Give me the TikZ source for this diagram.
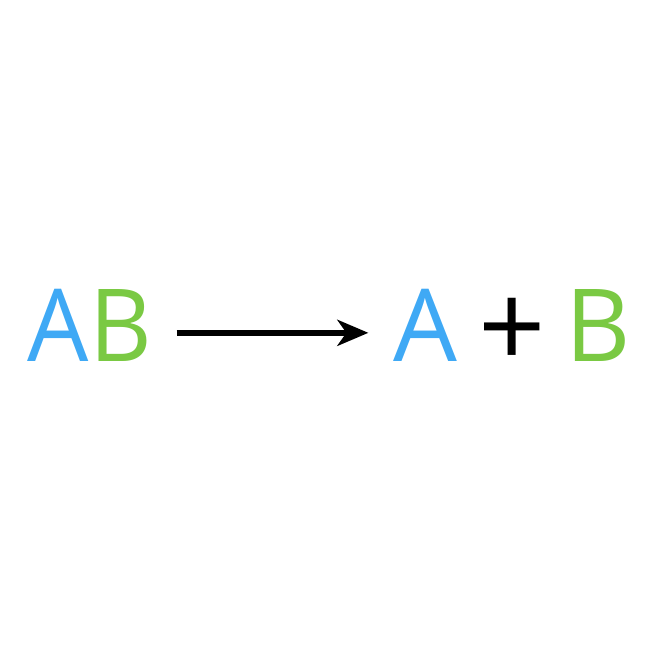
\documentclass[tikz,border=0pt]{standalone}
\usepackage{fontspec}
\setmainfont{Open Sans}
\usepackage{xcolor}
\usetikzlibrary{positioning,arrows.meta}
\definecolor{speciesA}{HTML}{3FA9F5}
\definecolor{speciesB}{HTML}{7AC943}

\begin{document}
\begin{tikzpicture}[>={Stealth[length=3.1mm,width=2.6mm,inset=0.9mm]},
                    every node/.style={inner sep=0pt,font=\fontsize{28.7}{30}\selectfont},
                    reaction/.style={line width=1.75pt}]
            \useasboundingbox (0,0) rectangle (6.5,6.5);
            %Nodes
                \node[anchor=base,xscale=0.96] (ab) at (0.90,2.88) {\textcolor{speciesA}{A}\textcolor{speciesB}{B}};
                \node[anchor=base,text=speciesA] (a) at (4.25,2.88) {A};
                \node[scale=1.17] (plus) at (5.12,3.17) {+};
                \node[anchor=base,text=speciesB] (b) at (5.98,2.88) {B};
                \coordinate (start) at ([xshift=2.4mm,yshift=-0.7mm]ab.east);
                \coordinate (end) at ([xshift=-2.4mm,yshift=-0.7mm]a.west);

            %Lines
                \draw[->,reaction] (start) -- (end);
            \end{tikzpicture}
\end{document}
